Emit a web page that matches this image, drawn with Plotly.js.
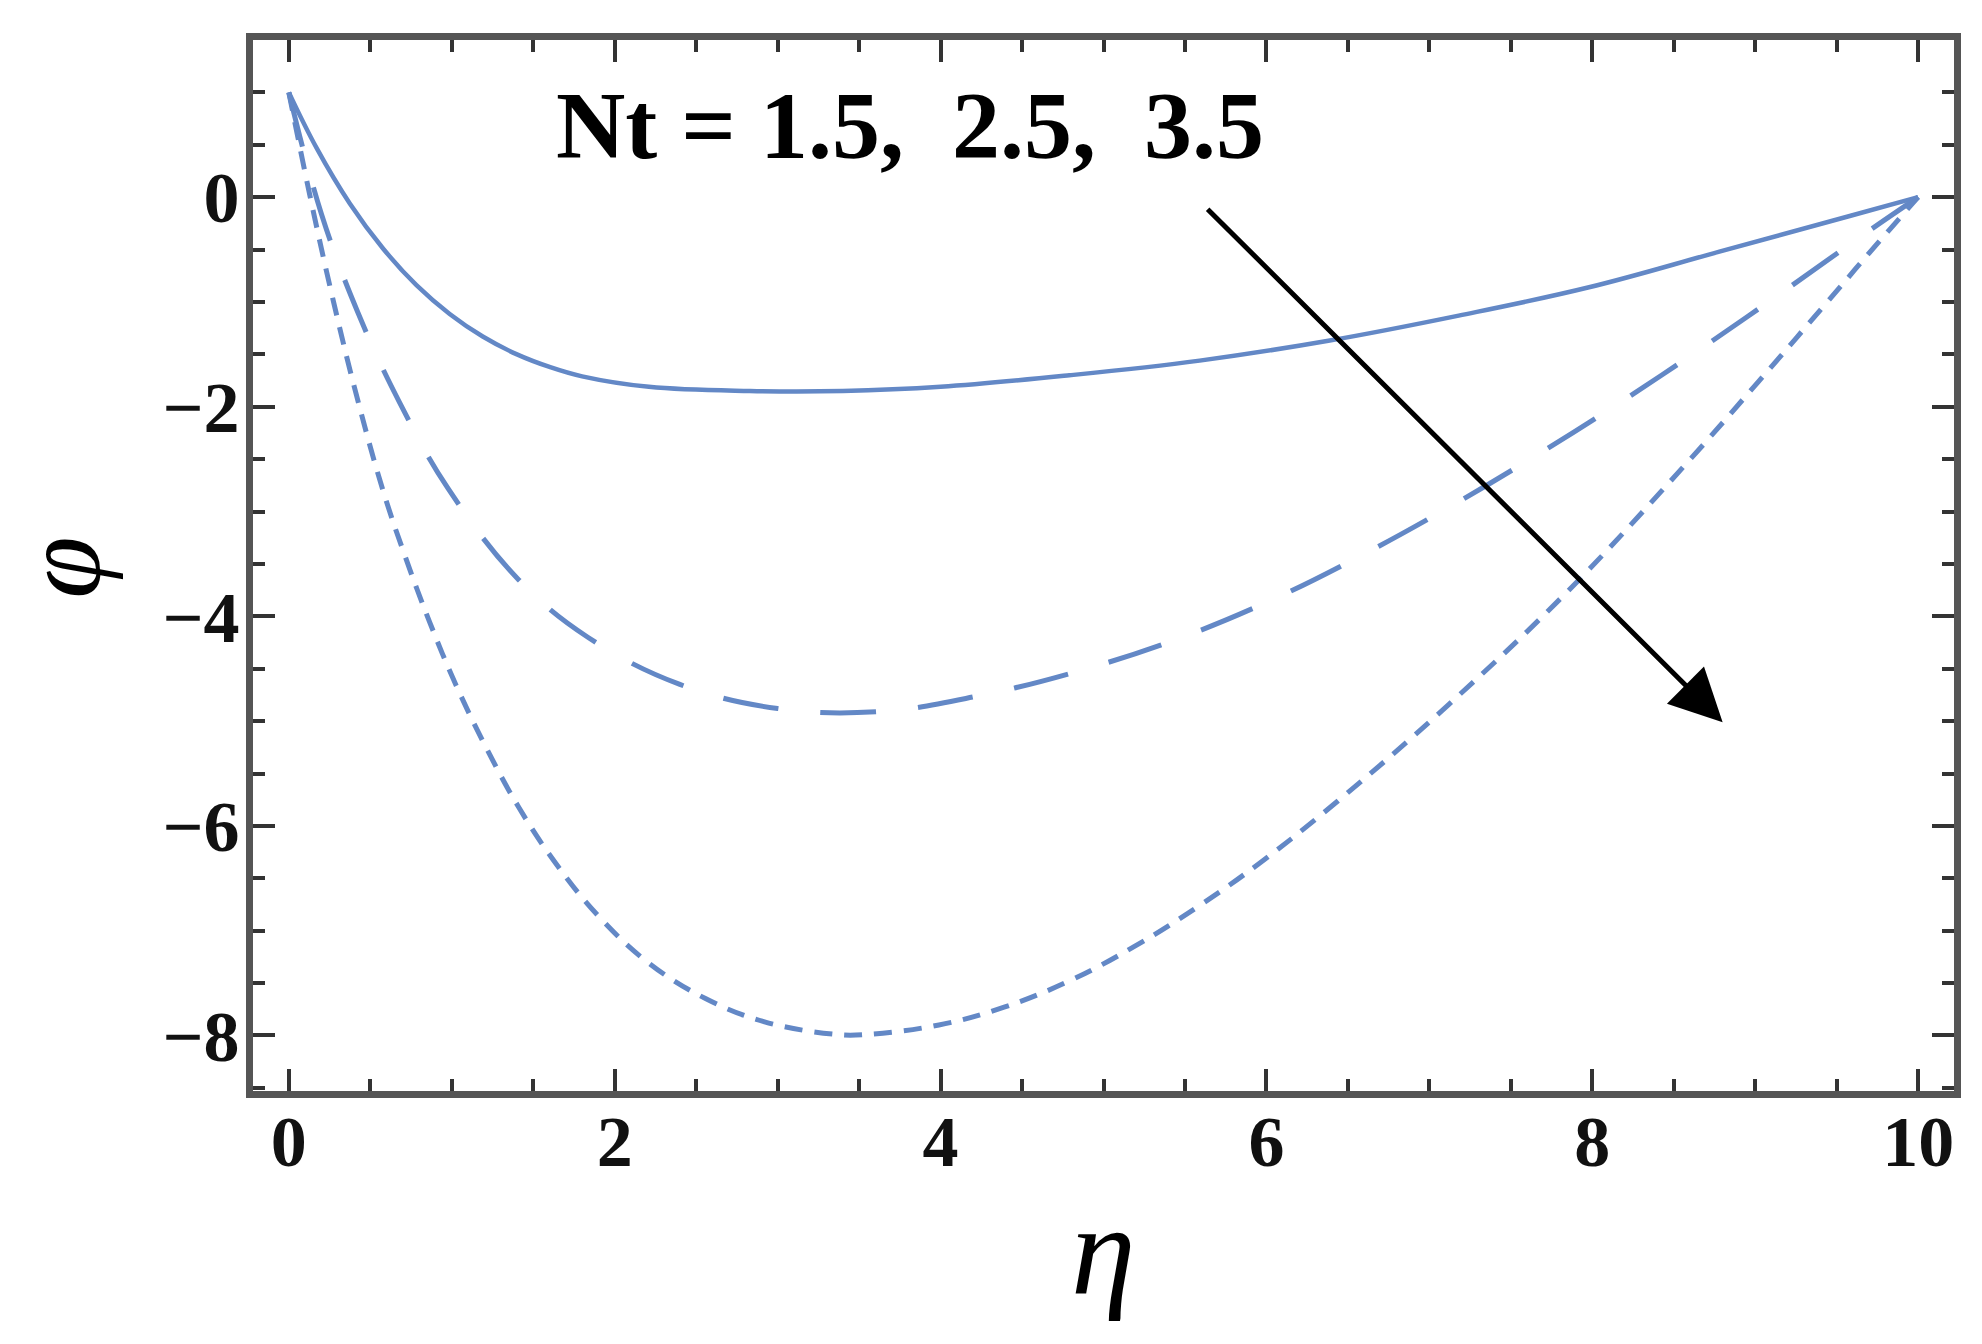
<!DOCTYPE html>
<html>
<head>
<meta charset="utf-8">
<script src="https://cdn.plot.ly/plotly-3.0.1.min.js"></script>
<style>
  html, body { margin: 0; padding: 0; background: #fff; }
  #plot { width: 1982px; height: 1344px; }
</style>
</head>
<body>
<div id="plot"></div>
<script>
// values: eta on x, phi on y
var etaNt15 = [0, 0.17, 0.374, 0.578, 0.783, 0.987, 1.19, 1.40, 1.60, 1.80, 2.21, 2.83, 3.4, 4.0, 4.79, 5.59, 6.38, 7.18, 7.98, 8.78, 9.58, 10];
var phiNt15 = [1.0, 0.47, -0.06, -0.49, -0.84, -1.115, -1.33, -1.50, -1.62, -1.71, -1.81, -1.85, -1.85, -1.81, -1.70, -1.56, -1.37, -1.13, -0.86, -0.52, -0.18, 0];

var etaNt25 = [0, 0.2, 0.425, 0.68, 0.977, 1.41, 1.835, 2.40, 3.0, 3.62, 4.23, 4.83, 5.43, 6.01, 6.57, 7.12, 7.65, 8.16, 8.70, 9.2, 9.69, 10];
var phiNt25 = [1.0, -0.16, -1.105, -1.96, -2.78, -3.65, -4.20, -4.65, -4.88, -4.91, -4.76, -4.53, -4.23, -3.86, -3.43, -2.96, -2.47, -1.97, -1.41, -0.87, -0.33, 0];

var etaNt35 = [0, 0.13, 0.27, 0.415, 0.578, 0.712, 0.863, 1.027, 1.22, 1.41, 1.63, 1.90, 2.21, 2.56, 2.92, 3.36, 3.55, 3.99, 4.39, 4.79, 5.19, 5.59, 5.98, 6.44, 7.12, 7.85, 8.59, 9.02, 9.42, 9.74, 10];
var phiNt35 = [1.0, 0.01, -0.97, -1.89, -2.80, -3.42, -4.05, -4.66, -5.28, -5.82, -6.34, -6.86, -7.31, -7.65, -7.87, -7.99, -7.99, -7.90, -7.73, -7.48, -7.15, -6.76, -6.33, -5.76, -4.84, -3.76, -2.52, -1.76, -1.04, -0.46, 0];

var xTicks = [0, 2, 4, 6, 8, 10];
var yTicks = [0, -2, -4, -6, -8];
var labelText = 'Nt = 1.5,\u00a0\u00a02.5,\u00a0\u00a03.5';

var lineColor = '#6388c6';
var serif = '"Liberation Serif", "Times New Roman", serif';

var traces = [
  {x: etaNt15, y: phiNt15, mode: 'lines', line: {color: lineColor, width: 4.5, shape: 'spline', smoothing: 1.1}},
  {x: etaNt25, y: phiNt25, mode: 'lines', line: {color: lineColor, width: 5, shape: 'spline', smoothing: 1.1, dash: '56px,42px'}},
  {x: etaNt35, y: phiNt35, mode: 'lines', line: {color: lineColor, width: 5, shape: 'spline', smoothing: 1.1, dash: '18px,12px'}}
];

var tickFont = {family: serif, size: 72, color: '#111', weight: 'bold'};

var layout = {
  width: 1982,
  height: 1344,
  showlegend: false,
  paper_bgcolor: '#fff',
  plot_bgcolor: '#fff',
  margin: {l: 253, r: 28, t: 40, b: 253},
  xaxis: {
    range: [-0.22, 10.22],
    tickvals: xTicks,
    ticks: 'inside', ticklen: 22, tickwidth: 4, tickcolor: '#333',
    minor: {dtick: 0.5, tick0: 0, ticks: 'inside', ticklen: 12, tickwidth: 4, tickcolor: '#333'},
    showline: true, linecolor: '#555', linewidth: 7, mirror: 'allticks',
    showgrid: false, zeroline: false,
    tickfont: tickFont,
    ticklabelstandoff: -18
  },
  yaxis: {
    range: [-8.53, 1.50],
    tickvals: yTicks,
    ticks: 'inside', ticklen: 22, tickwidth: 4, tickcolor: '#333',
    minor: {dtick: 0.5, tick0: 0, ticks: 'inside', ticklen: 12, tickwidth: 4, tickcolor: '#333'},
    showline: true, linecolor: '#555', linewidth: 7, mirror: 'allticks',
    showgrid: false, zeroline: false,
    tickfont: tickFont,
    ticklabelstandoff: -8
  },
  annotations: [
    {x: 8.80, y: -5.01, ax: 5.63, ay: -0.10, xref: 'x', yref: 'y', axref: 'x', ayref: 'y',
     showarrow: true, arrowhead: 2, arrowsize: 2.1, arrowwidth: 5, arrowcolor: '#000', text: ''},
    {x: 3.81, y: 0.68, xref: 'x', yref: 'y', showarrow: false, text: labelText,
     font: {family: serif, size: 96, color: '#000', weight: 'bold'}},
    {x: 0.5, y: -0.15, xref: 'paper', yref: 'paper', showarrow: false, text: 'η',
     xanchor: 'center', yanchor: 'middle',
     font: {family: serif, size: 130, color: '#000', style: 'italic'}},
    {x: -0.113, y: 0.498, xref: 'paper', yref: 'paper', showarrow: false, text: 'φ',
     textangle: -90, xanchor: 'center', yanchor: 'middle',
     font: {family: serif, size: 112, color: '#000', style: 'italic'}}
  ]
};

Plotly.newPlot('plot', traces, layout, {staticPlot: true});
</script>
</body>
</html>
